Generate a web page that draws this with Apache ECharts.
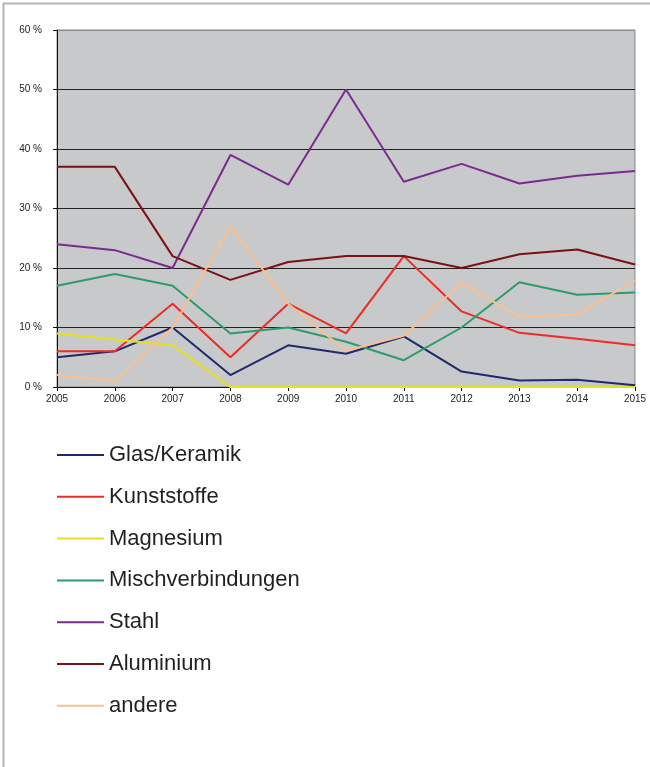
<!DOCTYPE html>
<html>
<head>
<meta charset="utf-8">
<script src="https://cdn.jsdelivr.net/npm/echarts@6/dist/echarts.min.js"></script>
<style>
  html, body { margin: 0; padding: 0; background: #fff; }
  #chart { width: 650px; height: 767px; }
</style>
</head>
<body>
<div id="chart"></div>
<script>
const years = ['2005', '2006', '2007', '2008', '2009', '2010', '2011', '2012', '2013', '2014', '2015']
const glas = [5.0, 6.0, 10.0, 2.0, 7.0, 5.6, 8.5, 2.6, 1.1, 1.2, 0.3]
const kunststoffe = [6.0, 6.0, 14.0, 5.0, 14.0, 9.0, 22.0, 12.7, 9.1, 8.1, 7.0]
const magnesium = [9.0, 8.0, 7.0, 0, 0, 0, 0, 0, 0, 0, 0]
const misch = [17.0, 19.0, 17.0, 9.0, 10.0, 7.6, 4.5, 10.0, 17.6, 15.5, 15.9]
const stahl = [24.0, 23.0, 20.0, 39.0, 34.0, 50.0, 34.5, 37.5, 34.2, 35.5, 36.3]
const aluminium = [37.0, 37.0, 22.0, 18.0, 21.0, 22.0, 22.0, 20.0, 22.3, 23.1, 20.6]
const andere = [2.0, 1.0, 10.0, 27.0, 14.0, 6.1, 8.6, 17.5, 11.8, 12.2, 17.9]

const names = ['Glas/Keramik', 'Kunststoffe', 'Magnesium', 'Mischverbindungen', 'Stahl', 'Aluminium', 'andere']
const colors = ['#1f2a6e', '#ee2b24', '#e6e21a', '#2f9a6c', '#7b2a8f', '#7a1114', '#fbc08e']
const values = [glas, kunststoffe, magnesium, misch, stahl, aluminium, andere]

const chart = echarts.init(document.getElementById('chart'))
const option = {
  animation: false,
  textStyle: { fontFamily: 'Liberation Sans, Arial, sans-serif' },
  graphic: [
    // outer frame (left and top edges only)
    { type: 'line', shape: { x1: 3.5, y1: 3, x2: 3.5, y2: 767 }, style: { stroke: '#b4b4b4', lineWidth: 2 } },
    { type: 'line', shape: { x1: 3, y1: 3.5, x2: 650, y2: 3.5 }, style: { stroke: '#b4b4b4', lineWidth: 2 } },
  ],
  grid: {
    left: 57, right: 15, top: 30, bottom: 380,
    show: true, backgroundColor: '#c8c9cb', borderColor: '#8a8a8a', borderWidth: 1,
  },
  legend: {
    orient: 'vertical',
    left: 57,
    top: 444,
    padding: 0,
    icon: 'rect',
    itemWidth: 47,
    itemHeight: 2,
    itemGap: 19.8,
    data: names,
    textStyle: { fontSize: 22, color: '#231f20', lineHeight: 20, height: 20, fontFamily: 'Liberation Sans, Arial, sans-serif' },
  },
  xAxis: {
    type: 'category',
    boundaryGap: false,
    data: years,
    axisLine: { lineStyle: { color: '#111', width: 1 } },
    axisTick: { show: true, length: 4, lineStyle: { color: '#111' } },
    axisLabel: { color: '#222', fontSize: 10, margin: 7 },
    splitLine: { show: false },
  },
  yAxis: {
    type: 'value',
    min: 0, max: 60, interval: 10,
    axisLine: { show: true, lineStyle: { color: '#111', width: 1 } },
    axisTick: { show: true, length: 4, lineStyle: { color: '#111' } },
    axisLabel: { color: '#222', fontSize: 10, margin: 15, formatter: '{value} %' },
    splitLine: { lineStyle: { color: ['#222', '#222', '#222', '#222', '#222', '#222', '#8a8a8a'], width: 1 } },
  },
  series: names.map((n, i) => ({
    name: n,
    type: 'line',
    data: values[i],
    symbol: 'none',
    color: colors[i],
    lineStyle: { width: 2, color: colors[i] },
  })),
}
chart.setOption(option)
</script>
</body>
</html>
